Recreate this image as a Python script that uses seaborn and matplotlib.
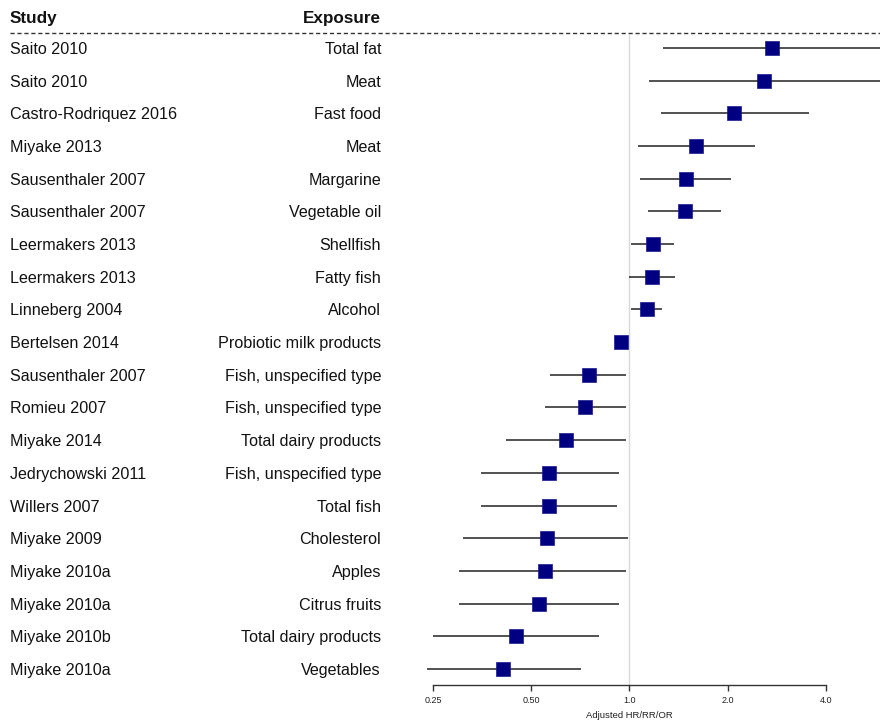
import matplotlib
matplotlib.use("Agg")
import matplotlib.pyplot as plt
from matplotlib.lines import Line2D
from matplotlib.transforms import blended_transform_factory
import seaborn as sns
import pandas as pd
import numpy as np

studies = ["Saito 2010", "Saito 2010", "Castro-Rodriquez 2016", "Miyake 2013",
           "Sausenthaler 2007", "Sausenthaler 2007", "Leermakers 2013", "Leermakers 2013",
           "Linneberg 2004", "Bertelsen 2014", "Sausenthaler 2007", "Romieu 2007",
           "Miyake 2014", "Jedrychowski 2011", "Willers 2007", "Miyake 2009",
           "Miyake 2010a", "Miyake 2010a", "Miyake 2010b", "Miyake 2010a"]
exposures = ["Total fat", "Meat", "Fast food", "Meat", "Margarine", "Vegetable oil",
             "Shellfish", "Fatty fish", "Alcohol", "Probiotic milk products",
             "Fish, unspecified type", "Fish, unspecified type", "Total dairy products",
             "Fish, unspecified type", "Total fish", "Cholesterol", "Apples",
             "Citrus fruits", "Total dairy products", "Vegetables"]
estimate = [2.73, 2.59, 2.10, 1.60, 1.49, 1.48, 1.18, 1.17, 1.13, 0.94,
            0.75, 0.73, 0.64, 0.567, 0.567, 0.56, 0.55, 0.53, 0.45, 0.41]
lower = [1.27, 1.15, 1.25, 1.06, 1.08, 1.14, 1.01, 1.00, 1.01, 0.93,
         0.571, 0.552, 0.42, 0.351, 0.351, 0.31, 0.30, 0.30, 0.25, 0.24]
upper = [6.5, 7.0, 3.55, 2.43, 2.05, 1.91, 1.37, 1.38, 1.26, 0.95,
         0.977, 0.977, 0.977, 0.93, 0.92, 0.99, 0.98, 0.93, 0.81, 0.71]
tick_values = [0.25, 0.5, 1.0, 2.0, 4.0]
tick_labels = ["0.25", "0.50", "1.0", "2.0", "4.0"]

df = pd.DataFrame({"study": studies, "exposure": exposures, "est": estimate,
                   "lo": lower, "hi": upper, "row": np.arange(len(studies))})

sns.set_style("white")
plt.rcParams["font.family"] = ["Liberation Sans", "DejaVu Sans"]

W, H = 880, 722
fig = plt.figure(figsize=(W / 100, H / 100), dpi=100)
left_px, right_px, top_px, bot_px = 420, 880, 35, 685
ax = fig.add_axes([left_px / W, 1 - bot_px / H, (right_px - left_px) / W, (bot_px - top_px) / H])

ax.set_xscale("log", base=2)
# 1.0 at x=629.3px, 98.2 px per doubling
x_at = lambda px: 2 ** ((px - 629.3) / 98.2)
ax.set_xlim(x_at(left_px), x_at(right_px))
row_step = 32.68
ax.set_ylim((bot_px - 48) / row_step, (top_px - 48) / row_step)

ax.axvline(1.0, color="#d9d9d9", lw=1, zorder=0)
ax.hlines(df["row"], df["lo"], df["hi"], color="#222222", lw=1.1, zorder=1)
sns.scatterplot(data=df, x="est", y="row", marker="s", s=105, color="#000080",
                edgecolor="#1a1a90", linewidth=0.5, ax=ax, zorder=3, legend=False)

for s in ["top", "right", "left"]:
    ax.spines[s].set_visible(False)
ax.spines["bottom"].set_bounds(0.25, 4.0)
ax.spines["bottom"].set_color("#333333")
ax.spines["bottom"].set_linewidth(1)
ax.set_xticks(tick_values)
ax.set_xticklabels(tick_labels)
ax.xaxis.set_minor_locator(matplotlib.ticker.NullLocator())
ax.tick_params(axis="x", which="major", direction="out", length=4, width=1,
               color="#333333", labelsize=6.5, pad=4, bottom=True, labelcolor="#222222")
ax.set_yticks([])
ax.set_xlabel("")
ax.set_ylabel("")
xl_tr = blended_transform_factory(ax.transData, fig.transFigure)
ax.text(1.0, 1 - 715 / H, "Adjusted HR/RR/OR", transform=xl_tr, ha="center", va="center",
        fontsize=6.8, color="#222222", clip_on=False)

tr = blended_transform_factory(fig.transFigure, ax.transData)
for i, (st, ex) in enumerate(zip(studies, exposures)):
    ax.text(10 / W, i, st, transform=tr, ha="left", va="center_baseline", fontsize=11.6,
            color="#111111", clip_on=False)
    ax.text(381 / W, i, ex, transform=tr, ha="right", va="center_baseline", fontsize=11.6,
            color="#111111", clip_on=False)

fig.text(10 / W, 1 - 17 / H, "Study", ha="left", va="center_baseline", fontsize=12.3,
         fontweight="bold", color="#111111")
fig.text(381 / W, 1 - 17 / H, "Exposure", ha="right", va="center_baseline", fontsize=12.3,
         fontweight="bold", color="#111111")
fig.add_artist(Line2D([10 / W, 1.0], [1 - 33 / H, 1 - 33 / H], transform=fig.transFigure,
                      color="#333333", lw=1, linestyle=(0, (3, 2))))

fig.savefig("out.png", dpi=100)
